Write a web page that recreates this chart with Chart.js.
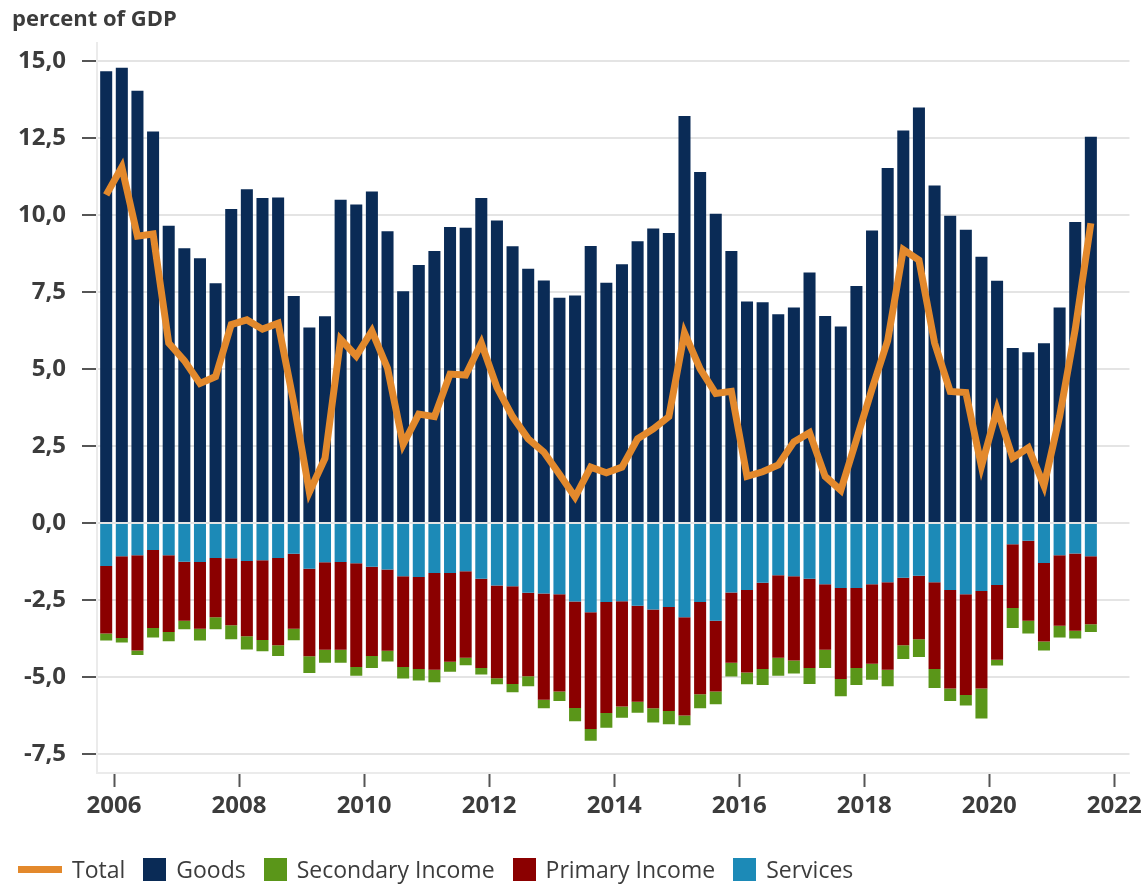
<!DOCTYPE html>
<html>
<head>
<meta charset="utf-8">
<script src="https://cdn.jsdelivr.net/npm/chart.js@4.4.1/dist/chart.umd.min.js"></script>
<style>
  body { margin: 0; background: #fff; }
  #wrap { position: relative; width: 1147px; height: 884px; }
  #legend {
    position: absolute; left: 18px; top: 852px; height: 34px;
    display: flex; align-items: center;
    font: 23px "Open Sans", sans-serif; color: #3c3c3c;
  }
  #legend .item { display: flex; align-items: center; margin-right: 18px; }
  #legend .sw { display: inline-block; margin-right: 10px; }
</style>
</head>
<body>
<div id="wrap">
  <canvas id="bop_chart"></canvas>
  <div id="legend"></div>
</div>
<script>
// quarters, 2005Q4 .. 2021Q3
const quarters = [
  "2005Q4",
  "2006Q1","2006Q2","2006Q3","2006Q4","2007Q1","2007Q2","2007Q3","2007Q4",
  "2008Q1","2008Q2","2008Q3","2008Q4","2009Q1","2009Q2","2009Q3","2009Q4",
  "2010Q1","2010Q2","2010Q3","2010Q4","2011Q1","2011Q2","2011Q3","2011Q4",
  "2012Q1","2012Q2","2012Q3","2012Q4","2013Q1","2013Q2","2013Q3","2013Q4",
  "2014Q1","2014Q2","2014Q3","2014Q4","2015Q1","2015Q2","2015Q3","2015Q4",
  "2016Q1","2016Q2","2016Q3","2016Q4","2017Q1","2017Q2","2017Q3","2017Q4",
  "2018Q1","2018Q2","2018Q3","2018Q4","2019Q1","2019Q2","2019Q3","2019Q4",
  "2020Q1","2020Q2","2020Q3","2020Q4","2021Q1","2021Q2","2021Q3"
];

const goods = [
  14.66,
  14.78, 14.03, 12.71, 9.65, 8.92, 8.59, 7.78, 10.19,
  10.83, 10.55, 10.56, 7.37, 6.34, 6.71, 10.49, 10.34,
  10.76, 9.47, 7.52, 8.37, 8.83, 9.61, 9.58, 10.55,
  9.82, 8.98, 8.25, 7.87, 7.31, 7.38, 8.99, 7.80,
  8.40, 9.14, 9.56, 9.41, 13.21, 11.39, 10.04, 8.83,
  7.19, 7.16, 6.77, 6.99, 8.13, 6.72, 6.38, 7.69,
  9.49, 11.52, 12.74, 13.49, 10.95, 9.97, 9.52, 8.64,
  7.86, 5.68, 5.54, 5.83, 6.99, 9.77, 12.54
];

const services = [
  -1.40,
  -1.08, -1.05, -0.88, -1.05, -1.26, -1.27, -1.14, -1.15,
  -1.24, -1.21, -1.14, -1.00, -1.49, -1.28, -1.27, -1.31,
  -1.42, -1.51, -1.73, -1.76, -1.63, -1.63, -1.57, -1.81,
  -2.03, -2.06, -2.27, -2.29, -2.32, -2.55, -2.90, -2.57,
  -2.54, -2.69, -2.81, -2.73, -3.06, -2.57, -3.18, -2.26,
  -2.18, -1.94, -1.70, -1.73, -1.81, -1.99, -2.11, -2.11,
  -1.99, -1.93, -1.78, -1.72, -1.93, -2.18, -2.32, -2.21,
  -2.02, -0.69, -0.58, -1.30, -1.05, -0.99, -1.08
];

const primaryIncome = [
  -2.19,
  -2.66, -3.09, -2.53, -2.49, -1.92, -2.17, -1.92, -2.17,
  -2.44, -2.59, -2.83, -2.44, -2.84, -2.84, -2.85, -3.37,
  -2.90, -2.64, -2.95, -2.98, -3.14, -2.88, -2.81, -2.90,
  -3.01, -3.17, -2.71, -3.45, -3.15, -3.46, -3.79, -3.60,
  -3.42, -3.12, -3.21, -3.38, -3.19, -2.99, -2.29, -2.28,
  -2.68, -2.80, -2.68, -2.74, -2.90, -2.13, -2.96, -2.60,
  -2.58, -2.84, -2.19, -2.06, -2.81, -3.20, -3.27, -3.17,
  -2.42, -2.07, -2.60, -2.55, -2.29, -2.51, -2.21
];

const secondaryIncome = [
  -0.23,
  -0.14, -0.15, -0.31, -0.30, -0.27, -0.38, -0.39, -0.46,
  -0.43, -0.37, -0.35, -0.37, -0.54, -0.42, -0.42, -0.28,
  -0.39, -0.35, -0.37, -0.38, -0.40, -0.32, -0.24, -0.21,
  -0.20, -0.27, -0.32, -0.28, -0.31, -0.43, -0.38, -0.48,
  -0.37, -0.35, -0.46, -0.43, -0.32, -0.46, -0.42, -0.45,
  -0.38, -0.52, -0.58, -0.42, -0.52, -0.59, -0.56, -0.55,
  -0.52, -0.53, -0.45, -0.57, -0.62, -0.40, -0.34, -0.97,
  -0.19, -0.65, -0.41, -0.29, -0.38, -0.25, -0.25
];

const total = [
  10.65,
  11.55, 9.31, 9.38, 5.84, 5.27, 4.53, 4.75, 6.44,
  6.59, 6.29, 6.48, 3.90, 1.00, 2.10, 5.96, 5.42,
  6.23, 5.02, 2.55, 3.53, 3.45, 4.83, 4.80, 5.84,
  4.40, 3.45, 2.73, 2.30, 1.58, 0.84, 1.81, 1.63,
  1.81, 2.73, 3.05, 3.45, 6.17, 5.00, 4.20, 4.27,
  1.51, 1.66, 1.88, 2.63, 2.93, 1.51, 1.06, 2.70,
  4.35, 5.92, 8.87, 8.53, 5.84, 4.27, 4.23, 1.84,
  3.68, 2.11, 2.44, 1.21, 3.45, 6.29, 9.73
];

const yTickValues = [-7.5, -5, -2.5, 0, 2.5, 5, 7.5, 10, 12.5, 15];
const xTickYears = [2006, 2008, 2010, 2012, 2014, 2016, 2018, 2020, 2022];
const legendOrder = ["Total", "Goods", "Secondary Income", "Primary Income", "Services"];

// quarter label -> position on the time axis (middle of the quarter)
function qPos(q) {
  const yr = +q.slice(0, 4);
  const n = +q.slice(5);
  return yr + (n - 0.5) / 4;
}
const toPoints = (arr) => arr.map((v, i) => ({x: qPos(quarters[i]), y: v}));

const textColor = '#3c3c3c';
const barOpts = { type: 'bar', stack: 'bars', order: 1, barPercentage: 0.77, categoryPercentage: 1, borderWidth: 0 };

const ctx = document.getElementById('bop_chart');
const chart = new Chart(ctx, {
  data: {
    datasets: [
      {
        type: 'line', label: 'Total', data: toPoints(total), stack: 'total', order: 0,
        borderColor: '#e3892c', backgroundColor: '#e3892c', borderWidth: 7,
        pointRadius: 0, tension: 0, fill: false
      },
      // stacking order: services nearest zero, then primary, then secondary
      { ...barOpts, label: 'Goods', data: toPoints(goods), backgroundColor: '#0a2b56' },
      { ...barOpts, label: 'Services', data: toPoints(services), backgroundColor: '#1c8ab7' },
      { ...barOpts, label: 'Primary Income', data: toPoints(primaryIncome), backgroundColor: '#8b0000' },
      { ...barOpts, label: 'Secondary Income', data: toPoints(secondaryIncome), backgroundColor: '#5a9619' }
    ]
  },
  options: {
    responsive: true,
    maintainAspectRatio: false,
    animation: false,
    layout: { padding: { left: 12, right: 17, top: 0, bottom: 0 } },
    plugins: {
      legend: { display: false },
      tooltip: { enabled: false },
      title: {
        display: true,
        text: 'percent of GDP',
        align: 'start',
        color: textColor,
        font: { family: 'Open Sans', size: 22, weight: 'bold' },
        padding: { top: 7, bottom: 9.6 }
      }
    },
    scales: {
      x: {
        type: 'linear',
        stacked: true,
        offset: false,
        min: 2005.728,
        max: 2022.243,
        afterFit: (s) => { s.height = 111; },
        afterBuildTicks: (s) => { s.ticks = xTickYears.map(v => ({value: v})); },
        grid: { offset: false, drawOnChartArea: false, drawTicks: true, tickLength: 14, tickWidth: 2, tickColor: '#555' },
        border: { display: true, color: '#ebebeb', width: 2 },
        ticks: {
          autoSkip: false, maxRotation: 0, padding: 5,
          color: textColor,
          font: { family: 'Open Sans', size: 24, weight: 'bold' },
          callback: (v) => String(v)
        }
      },
      y: {
        stacked: true,
        min: -8.12,
        max: 15.58,
        afterFit: (s) => { s.width = 85; },
        afterBuildTicks: (s) => { s.ticks = yTickValues.map(v => ({value: v})); },
        grid: { color: '#e4e4e4', lineWidth: 2, tickLength: 15, tickWidth: 2, tickColor: '#555' },
        border: { display: true, color: '#ebebeb', width: 2 },
        ticks: {
          padding: 16,
          color: textColor,
          font: { family: 'Open Sans', size: 24, weight: 'bold' },
          callback: (v) => v.toFixed(1).replace('.', ',')
        }
      }
    }
  }
});

// html legend, built from the chart's datasets
const legendEl = document.getElementById('legend');
legendOrder.forEach((name) => {
  const ds = chart.data.datasets.find(d => d.label === name);
  const item = document.createElement('span');
  item.className = 'item';
  const sw = document.createElement('span');
  sw.className = 'sw';
  if (ds.type === 'line') {
    sw.style.cssText = `width:44px;height:7px;background:${ds.borderColor}`;
  } else {
    sw.style.cssText = `width:23px;height:23px;background:${ds.backgroundColor}`;
  }
  item.appendChild(sw);
  item.appendChild(document.createTextNode(name));
  legendEl.appendChild(item);
});
</script>
</body>
</html>
